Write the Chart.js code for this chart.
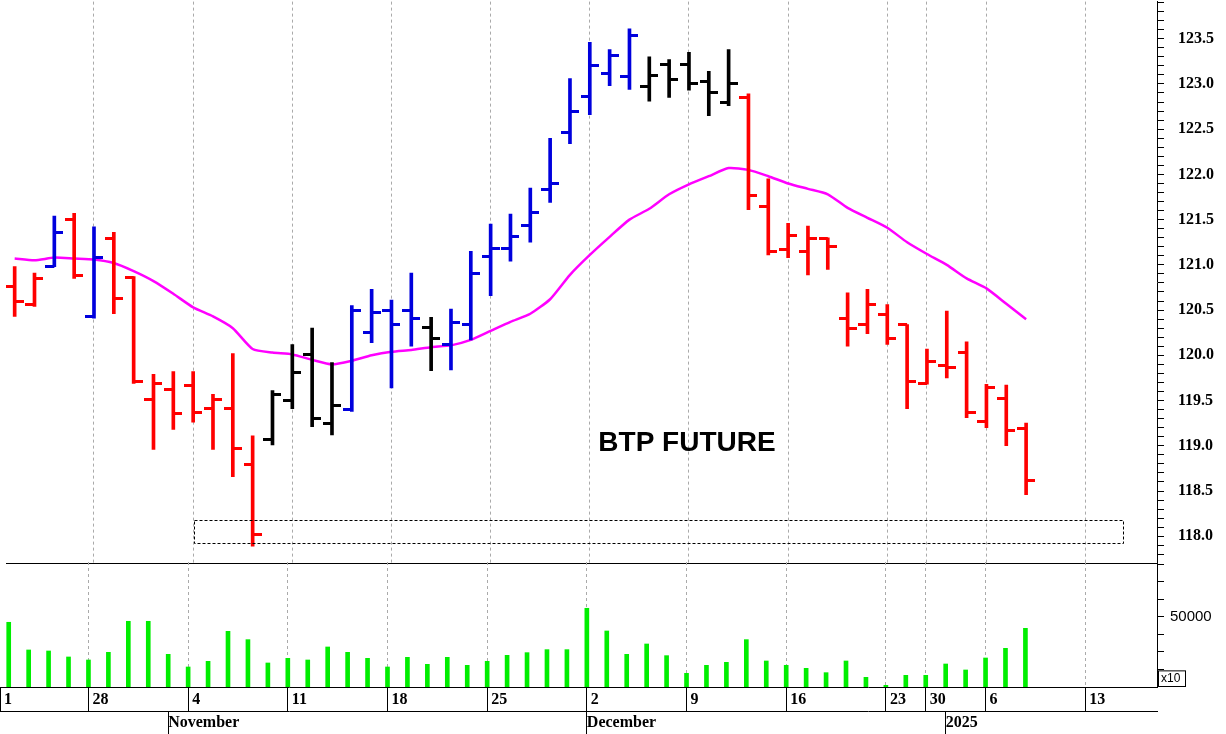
<!DOCTYPE html>
<html>
<head>
<meta charset="utf-8">
<script src="https://cdn.jsdelivr.net/npm/chart.js@4.4.1/dist/chart.umd.min.js"></script>
<style>
  body { margin: 0; background: #fff; overflow: hidden; }
  #priceBox { position: absolute; left: 0; top: -22px; width: 1226px; height: 609px; }
  #volBox { position: absolute; left: 0; top: 547px; width: 1226px; height: 187px; }
</style>
</head>
<body>
<div id="priceBox"><canvas id="priceChart"></canvas></div>
<div id="volBox"><canvas id="volChart"></canvas></div>
<script>
// trading days, 22 Oct 2024 .. 8 Jan 2025 (index 0 .. 51)
const highs = [120.98, 120.91, 121.54, 121.57, 121.42, 121.36, 120.87, 119.79, 119.82, 119.82,
  119.57, 120.02, 119.11, 119.61, 120.12, 120.30, 119.92, 120.55, 120.73, 120.61,
  120.91, 120.42, 120.51, 121.15, 121.45, 121.56, 121.85, 122.40, 123.06, 123.46,
  123.38, 123.61, 123.30, 123.27, 123.35, 123.14, 123.38, 122.89, 121.95, 121.46,
  121.43, 121.30, 120.69, 120.73, 120.56, 120.34, 120.07, 120.49, 120.15, 119.68,
  119.67, 119.25];
const lows = [120.43, 120.54, 120.98, 120.85, 120.41, 120.46, 119.69, 118.96, 119.18, 119.26,
  118.96, 118.66, 117.89, 119.01, 119.41, 119.21, 119.12, 119.38, 120.14, 119.64,
  120.10, 119.83, 119.84, 120.17, 120.66, 121.04, 121.25, 121.69, 122.34, 122.66,
  122.98, 122.94, 122.81, 122.85, 122.93, 122.65, 122.76, 121.61, 121.11, 121.08,
  120.89, 120.95, 120.10, 120.24, 120.12, 119.41, 119.68, 119.75, 119.31, 119.20,
  119.00, 118.46];
const opens = [120.76, 120.56, 120.98, 121.50, 120.43, 121.29, 120.86, 119.51, 119.62, 119.67,
  119.41, 119.41, 118.79, 119.07, 119.50, 120.01, 119.25, 119.40, 120.25, 120.49,
  120.49, 120.31, 120.12, 120.34, 121.09, 121.18, 121.43, 121.83, 122.46, 122.86,
  123.12, 123.08, 122.97, 123.22, 123.22, 123.03, 122.80, 122.85, 121.65, 121.17,
  121.15, 121.29, 120.41, 120.34, 120.45, 120.34, 119.69, 119.89, 120.03, 119.27,
  119.52, 119.19];
const closes = [120.60, 120.85, 121.36, 120.88, 121.08, 120.63, 119.71, 119.69, 119.36, 119.37,
  119.51, 118.97, 118.02, 119.57, 119.81, 119.30, 119.45, 120.49, 120.47, 120.34,
  120.41, 120.19, 120.36, 120.90, 121.18, 121.31, 121.58, 121.90, 122.70, 123.20,
  123.31, 123.54, 123.09, 123.05, 123.00, 122.90, 123.00, 121.77, 121.15, 121.32,
  121.29, 121.20, 120.30, 120.56, 120.19, 119.71, 119.93, 119.86, 119.37, 119.64,
  119.17, 118.62];
// bar colour code: r = down trend, b = up trend, k = neutral
const barTrend = 'rrbrbrrrrrrrrkkkkbbbbkbbbbbbbbbbkkkkkrrrrrrrrrrrrrrr';
const movingAvg = [121.07, 121.05, 121.08, 121.07, 121.06, 121.02, 120.93, 120.82, 120.68, 120.53,
  120.43, 120.30, 120.07, 120.03, 120.01, 119.95, 119.90, 119.94, 120.00, 120.04,
  120.06, 120.09, 120.11, 120.17, 120.27, 120.37, 120.46, 120.62, 120.89, 121.11,
  121.31, 121.50, 121.62, 121.78, 121.89, 121.98, 122.07, 122.05, 121.98, 121.90,
  121.84, 121.78, 121.63, 121.52, 121.41, 121.25, 121.12, 121.00, 120.85, 120.74,
  120.57, 120.40];
const volumes = [46960, 31150, 30570, 27150, 25430, 29810, 47530, 47530, 28670, 21430,
  24670, 41810, 37050, 23720, 26380, 25430, 32860, 29810, 26380, 21430,
  26950, 22950, 26950, 22380, 24670, 28100, 29620, 31340, 31340, 54960,
  42000, 28670, 34570, 27910, 17810, 22380, 24100, 37050, 24860, 22380,
  20670, 18190, 24860, 15520, 10950, 16670, 16670, 23140, 19720, 26570,
  32100, 43530];

const X_MIN = -0.437;
const X_MAX = 57.6;
const dayTickIdx = [X_MIN, 4, 9, 14, 19, 24, 29, 34, 39, 44, 46, 49, 54];
const dayTickLabels = ['1', '28', '4', '11', '18', '25', '2', '9', '16', '23', '30', '6', '13'];
const monthTickIdx = [8, 29, 47];
const monthTickLabels = ['November', 'December', '2025'];
const supportLow = 117.93;
const supportHigh = 118.185;
const supportFrom = 9.05;
const supportTo = 55.9;
const titleText = 'BTP FUTURE';
const titleAt = [33.9, 119.03];

const trendColors = { r: '#ff0000', b: '#0000dd', k: '#000000' };
const colorOf = (i) => trendColors[barTrend[i]];
const AXIS_W = 69;

const makeTickImage = (color, side) => {
    const c = document.createElement('canvas');
    c.width = 18;
    c.height = 3;
    const g = c.getContext('2d');
    g.fillStyle = color;
    if (side == 'left') {
        g.fillRect(0, 0, 9, 3);
    } else {
        g.fillRect(9, 0, 9, 3);
    }
    return c;
};
const tickImages = {};
Object.keys(trendColors).forEach((k) => {
    tickImages[k] = {
        left: makeTickImage(trendColors[k], 'left'),
        right: makeTickImage(trendColors[k], 'right')
    };
});

const setTicks = (values) => (scale) => {
    scale.ticks = values.map((v) => ({ value: v }));
};
const labelFor = (values, labels, pad) => (value) => {
    const i = values.findIndex((v) => Math.abs(v - value) < 1e-6);
    return i >= 0 ? pad + labels[i] : '';
};
const fixWidth = (scale) => { scale.width = AXIS_W; };
const skipFirstLine = (c) => (c.index === 0 ? 'rgba(0,0,0,0)' : '#aaaaaa');

const overlayPlugin = {
    id: 'overlay',
    afterDatasetsDraw(chart) {
        const x = chart.scales.x;
        const y = chart.scales.y;
        const ctx = chart.ctx;
        ctx.save();
        ctx.strokeStyle = '#000';
        ctx.lineWidth = 1;
        ctx.setLineDash([3, 2]);
        const x0 = x.getPixelForValue(supportFrom);
        const x1 = x.getPixelForValue(supportTo);
        const y0 = y.getPixelForValue(supportHigh);
        const y1 = y.getPixelForValue(supportLow);
        ctx.strokeRect(Math.round(x0) + 0.5, Math.round(y0) + 0.5, Math.round(x1 - x0), Math.round(y1 - y0));
        ctx.setLineDash([]);
        ctx.fillStyle = '#000';
        ctx.font = 'bold 28px "Liberation Sans", Arial, sans-serif';
        ctx.textAlign = 'center';
        ctx.textBaseline = 'middle';
        ctx.fillText(titleText, x.getPixelForValue(titleAt[0]), y.getPixelForValue(titleAt[1]));
        ctx.restore();
    }
};

const idx = volumes.map((v, i) => i);

new Chart(document.getElementById('priceChart'), {
    type: 'bar',
    data: {
        datasets: [
            {
                type: 'line',
                data: idx.map((i) => ({ x: i, y: movingAvg[i] })),
                borderColor: '#ff00ff',
                borderWidth: 2.5,
                pointRadius: 0,
                tension: 0.2,
                order: 3
            },
            {
                type: 'bar',
                data: idx.map((i) => ({ x: i, y: [lows[i], highs[i]] })),
                backgroundColor: idx.map(colorOf),
                barThickness: 3,
                order: 2
            },
            {
                type: 'line',
                showLine: false,
                data: idx.map((i) => ({ x: i, y: opens[i] })),
                pointStyle: (c) => tickImages[barTrend[c.dataIndex]].left,
                pointRadius: 5,
                order: 1
            },
            {
                type: 'line',
                showLine: false,
                data: idx.map((i) => ({ x: i, y: closes[i] })),
                pointStyle: (c) => tickImages[barTrend[c.dataIndex]].right,
                pointRadius: 5,
                order: 1
            }
        ]
    },
    options: {
        responsive: true,
        maintainAspectRatio: false,
        animation: false,
        layout: { padding: 0 },
        plugins: { legend: { display: false }, tooltip: { enabled: false } },
        scales: {
            x: {
                type: 'linear',
                offset: false,
                min: X_MIN,
                max: X_MAX,
                afterBuildTicks: setTicks(dayTickIdx.slice(1)),
                ticks: { display: false },
                grid: { color: '#aaaaaa', drawTicks: false, offset: false },
                border: { display: true, color: '#000', width: 1, dash: [3, 3] },
                afterFit: (s) => { s.height = 1; }
            },
            y: {
                position: 'right',
                min: 117.70,
                max: 123.91,
                afterBuildTicks: (scale) => {
                    const t = [];
                    for (let v = 117.8; v <= 123.9; v += 0.1) {
                        t.push({ value: Math.round(v * 10) / 10 });
                    }
                    scale.ticks = t;
                },
                afterFit: fixWidth,
                ticks: {
                    color: '#000',
                    padding: 14,
                    autoSkip: false,
                    font: { family: '"Liberation Serif", serif', size: 16, weight: 'bold' },
                    callback: (v) => (Math.abs(v * 2 - Math.round(v * 2)) < 1e-6 ? v.toFixed(1) : '')
                },
                grid: { drawOnChartArea: false, tickLength: 7, tickColor: '#000' },
                border: { color: '#000' }
            }
        }
    },
    plugins: [overlayPlugin]
});

const volumeNotePlugin = {
    id: 'volNote',
    afterDraw(chart) {
        const y = chart.scales.y;
        const ctx = chart.ctx;
        const left = chart.chartArea.right + 1;
        const bottom = chart.chartArea.bottom;
        ctx.save();
        ctx.strokeStyle = '#000';
        ctx.lineWidth = 1;
        ctx.strokeRect(left + 0.5, y.getPixelForValue(19500) + 0.5, 27, bottom - y.getPixelForValue(19500) - 1);
        ctx.fillStyle = '#000';
        ctx.font = '12px "Liberation Sans", Arial, sans-serif';
        ctx.textBaseline = 'middle';
        ctx.fillText('x10', left + 3, (y.getPixelForValue(19500) + bottom) / 2);
        ctx.restore();
    }
};

new Chart(document.getElementById('volChart'), {
    type: 'bar',
    data: {
        datasets: [{
            data: idx.map((i) => ({ x: i, y: volumes[i] })),
            backgroundColor: '#00ee00',
            barThickness: 4
        }]
    },
    options: {
        responsive: true,
        maintainAspectRatio: false,
        animation: false,
        layout: { padding: 0 },
        plugins: { legend: { display: false }, tooltip: { enabled: false } },
        scales: {
            x: {
                type: 'linear',
                offset: false,
                min: X_MIN,
                max: X_MAX,
                afterBuildTicks: setTicks(dayTickIdx),
                afterFit: (s) => { s.height = 24; },
                ticks: {
                    align: 'start',
                    padding: -21,
                    color: '#000',
                    maxRotation: 0,
                    autoSkip: false,
                    font: { family: '"Liberation Serif", serif', size: 16, weight: 'bold' },
                    callback: labelFor(dayTickIdx, dayTickLabels, ' ')
                },
                grid: { color: skipFirstLine, tickColor: '#000', tickLength: 24, offset: false },
                border: { color: '#000', dash: [3, 3] }
            },
            x2: {
                type: 'linear',
                position: 'bottom',
                offset: false,
                min: X_MIN,
                max: X_MAX,
                afterBuildTicks: setTicks(monthTickIdx),
                afterFit: (s) => { s.height = 23; },
                ticks: {
                    align: 'start',
                    padding: -21,
                    color: '#000',
                    maxRotation: 0,
                    autoSkip: false,
                    font: { family: '"Liberation Serif", serif', size: 16, weight: 'bold' },
                    callback: labelFor(monthTickIdx, monthTickLabels, '')
                },
                grid: { drawOnChartArea: false, tickColor: '#000', tickLength: 23, offset: false },
                border: { color: '#000' }
            },
            y: {
                position: 'right',
                min: 10000,
                max: 81400,
                afterBuildTicks: (scale) => {
                    scale.ticks = [20000, 30000, 40000, 50000, 60000, 70000, 80000].map((v) => ({ value: v }));
                },
                afterFit: fixWidth,
                ticks: {
                    color: '#000',
                    padding: 6,
                    autoSkip: false,
                    font: { family: '"Liberation Sans", Arial, sans-serif', size: 15 },
                    callback: (v) => (v == 50000 ? '50000' : '')
                },
                grid: { drawOnChartArea: false, tickLength: 7, tickColor: '#000' },
                border: { color: '#000' }
            }
        }
    },
    plugins: [volumeNotePlugin]
});
</script>
</body>
</html>
